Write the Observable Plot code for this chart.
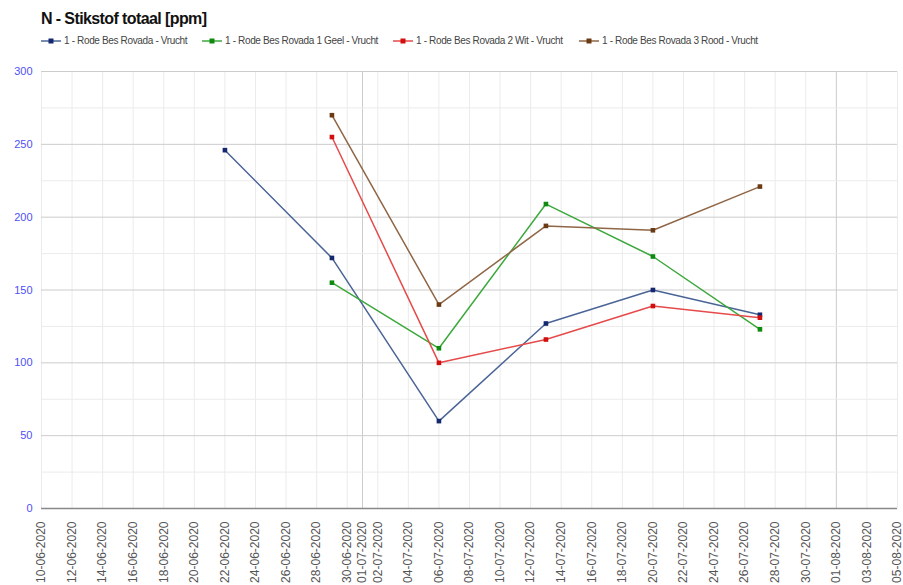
<!DOCTYPE html>
<html>
<head>
<meta charset="utf-8">
<script src="https://cdn.jsdelivr.net/npm/d3@7"></script>
<script src="https://cdn.jsdelivr.net/npm/@observablehq/plot@0.6"></script>
<style>
  html, body { margin: 0; padding: 0; background: #fff; }
  body { width: 903px; height: 585px; overflow: hidden; font-family: "Liberation Sans", Arial, sans-serif; }
  #header { position: relative; height: 55px; }
  #title { position: absolute; left: 41px; top: 10px; font-size: 16px; font-weight: bold; color: #111; letter-spacing: -0.6px; }
  .leg { position: absolute; top: 35px; font-size: 10px; letter-spacing: -0.35px; color: #444; display: flex; align-items: center; white-space: nowrap; }
  .leg svg { margin-right: 3px; }
</style>
</head>
<body>
<div id="header"><div id="title">N - Stikstof totaal [ppm]</div></div>
<div id="chart"></div>
<script>
const seriesNames = [
  "1 - Rode Bes Rovada - Vrucht",
  "1 - Rode Bes Rovada 1 Geel - Vrucht",
  "1 - Rode Bes Rovada 2 Wit - Vrucht",
  "1 - Rode Bes Rovada 3 Rood - Vrucht"
];
const sampleDates = ["22-06-2020","29-06-2020","06-07-2020","13-07-2020","20-07-2020","27-07-2020"];
const blueValues  = [246, 172, 60, 127, 150, 133];
const greenValues = [null, 155, 110, 209, 173, 123];
const redValues   = [null, 255, 100, 116, 139, 131];
const brownValues = [null, 270, 140, 194, 191, 221];
const lineColors   = ["#4b6496", "#3ca83c", "#e64a4a", "#8f6646"];
const markerColors = ["#13286e", "#0e8a0e", "#d20f0f", "#6b3a12"];
const xTickLabels = ["10-06-2020","12-06-2020","14-06-2020","16-06-2020","18-06-2020","20-06-2020",
  "22-06-2020","24-06-2020","26-06-2020","28-06-2020","30-06-2020","01-07-2020","02-07-2020",
  "04-07-2020","06-07-2020","08-07-2020","10-07-2020","12-07-2020","14-07-2020","16-07-2020",
  "18-07-2020","20-07-2020","22-07-2020","24-07-2020","26-07-2020","28-07-2020","30-07-2020",
  "01-08-2020","03-08-2020","05-08-2020"];
const yTicks = [0, 50, 100, 150, 200, 250, 300];
const yMinorTicks = [25, 75, 125, 175, 225, 275];

const parse = d3.utcParse("%d-%m-%Y");
const fmt = d3.utcFormat("%d-%m-%Y");
const allValues = [blueValues, greenValues, redValues, brownValues];
const rows = [];
allValues.forEach((vals, si) => vals.forEach((v, i) => {
  if (v != null) rows.push({series: si, date: parse(sampleDates[i]), value: v});
}));
const xTicks = xTickLabels.map(parse);
const monthTicks = xTicks.filter(d => d.getUTCDate() === 1);
const otherTicks = xTicks.filter(d => d.getUTCDate() !== 1);

// legend
const header = document.getElementById("header");
const legLeft = [41, 202, 393, 579];
seriesNames.forEach((name, i) => {
  const div = document.createElement("div");
  div.className = "leg";
  div.style.left = legLeft[i] + "px";
  div.innerHTML = `<svg width="20" height="8"><line x1="0" x2="20" y1="4" y2="4" stroke="${lineColors[i]}" stroke-width="1.5"/><rect x="7.5" y="1.5" width="5" height="5" fill="${markerColors[i]}"/></svg><span>${name}</span>`;
  header.appendChild(div);
});

const marks = [
  Plot.ruleX(otherTicks, {stroke: "#ebebeb", strokeWidth: 1}),
  Plot.ruleX(monthTicks, {stroke: "#cccccc", strokeWidth: 1}),
  Plot.ruleY(yMinorTicks, {stroke: "#ebebeb", strokeWidth: 1}),
  Plot.ruleY(yTicks.filter(d => d > 0), {stroke: "#cccccc", strokeWidth: 1}),
  Plot.ruleY([0], {stroke: "#888888", strokeWidth: 1.5}),
  Plot.axisY({ticks: yTicks, tickSize: 0, tickPadding: 9, label: null, fill: "#4f4ff5", fontSize: 11}),
  Plot.axisX({ticks: xTicks, tickFormat: fmt, tickRotate: -90, tickSize: 0, tickPadding: 13, label: null, fill: "#555", fontSize: 12})
];
allValues.forEach((_, si) => {
  const d = rows.filter(r => r.series === si);
  marks.push(Plot.line(d, {x: "date", y: "value", stroke: lineColors[si], strokeWidth: 1.5}));
  marks.push(Plot.dot(d, {x: "date", y: "value", symbol: "square", r: 2.6, fill: markerColors[si], stroke: "none"}));
});

const chart = Plot.plot({
  width: 903,
  height: 530,
  marginTop: 16,
  marginBottom: 77,
  marginLeft: 41,
  marginRight: 6,
  style: {fontFamily: "'Liberation Sans', Arial, sans-serif", background: "#fff"},
  x: {type: "utc", domain: [parse("10-06-2020"), parse("05-08-2020")]},
  y: {domain: [0, 300]},
  marks
});
document.getElementById("chart").appendChild(chart);
</script>
</body>
</html>
